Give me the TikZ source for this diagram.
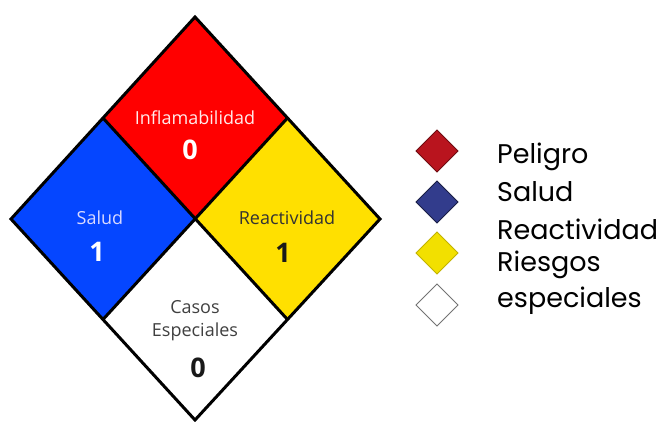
\documentclass[tikz,border=0pt]{standalone}
\usepackage{fontspec}
\setmainfont{Open Sans}
\newfontfamily\legfont{Poppins}
\definecolor{nred}{RGB}{255,0,0}
\definecolor{nblue}{RGB}{5,70,255}
\definecolor{nyellow}{RGB}{255,224,0}
\definecolor{lred}{RGB}{185,20,30}
\definecolor{lblue}{RGB}{50,60,140}
\definecolor{lyellow}{RGB}{242,224,0}
\tikzset{
  lbl/.style={font=\fontsize{18}{22}\selectfont, inner sep=0pt, align=center},
  num/.style={font=\bfseries\fontsize{27}{30}\selectfont, inner sep=0pt},
  leg/.style={font=\legfont\fontsize{27}{30}\selectfont, anchor=west, inner sep=0pt}
}
\begin{document}
\begin{tikzpicture}[x=1pt,y=-1pt]
\useasboundingbox (0,0) rectangle (661,421);
\coordinate (T) at (195,17);
\coordinate (L) at (11,219);
\coordinate (R) at (380,219);
\coordinate (B) at (195,420);
\coordinate (C) at (195,218.5);
\coordinate (TL) at (103,118);
\coordinate (TR) at (287.5,118);
\coordinate (BL) at (103,319.5);
\coordinate (BR) at (287.5,319.5);
\fill[nred] (T) -- (TR) -- (C) -- (TL) -- cycle;
\fill[nblue] (TL) -- (C) -- (BL) -- (L) -- cycle;
\fill[nyellow] (TR) -- (R) -- (BR) -- (C) -- cycle;
\fill[white] (C) -- (BR) -- (B) -- (BL) -- cycle;
\draw[line width=3pt, line join=miter] (T) -- (R) -- (B) -- (L) -- cycle;
\draw[line width=3pt] (TL) -- (BR);
\draw[line width=3pt] (TR) -- (BL);
\node[lbl, text=white!92!red] (t1) at (195,118) {Inflamabilidad};
\node[num, text=white] (n1) at (190,150) {0};
\node[lbl, text=white!85!blue] (t2) at (100,218) {Salud};
\node[num, text=white] (n2) at (97,252) {1};
\node[lbl, text=black!80] (t3) at (287,218) {Reactividad};
\node[num, text=black!90] (n3) at (283,253) {1};
\node[lbl, text=black!75] (t4) at (195,307) {Casos};
\node[lbl, text=black!75] (t5) at (195,332) {Especiales};
\node[num, text=black!90] (n4) at (198,368) {0};
% legend
\draw[fill=lred, draw=lred!60!black, line width=0.8pt] (437,130) -- (458,151) -- (437,172) -- (416,151) -- cycle;
\draw[fill=lblue, draw=lblue!50!black, line width=0.8pt] (437,181) -- (458,202) -- (437,223) -- (416,202) -- cycle;
\draw[fill=lyellow, draw=lyellow!80!black, line width=0.8pt] (437,232) -- (458,253) -- (437,274) -- (416,253) -- cycle;
\draw[fill=white, draw=black!55, line width=0.8pt] (437,284) -- (458,305) -- (437,326) -- (416,305) -- cycle;
\node[leg] (l1) at (497,157) {Peligro};
\node[leg] (l2) at (497,192) {Salud};
\node[leg] (l3) at (497,229) {Reactividad};
\node[leg] (l4) at (497,265) {Riesgos};
\node[leg] (l5) at (497,301) {especiales};
\end{tikzpicture}
\end{document}
